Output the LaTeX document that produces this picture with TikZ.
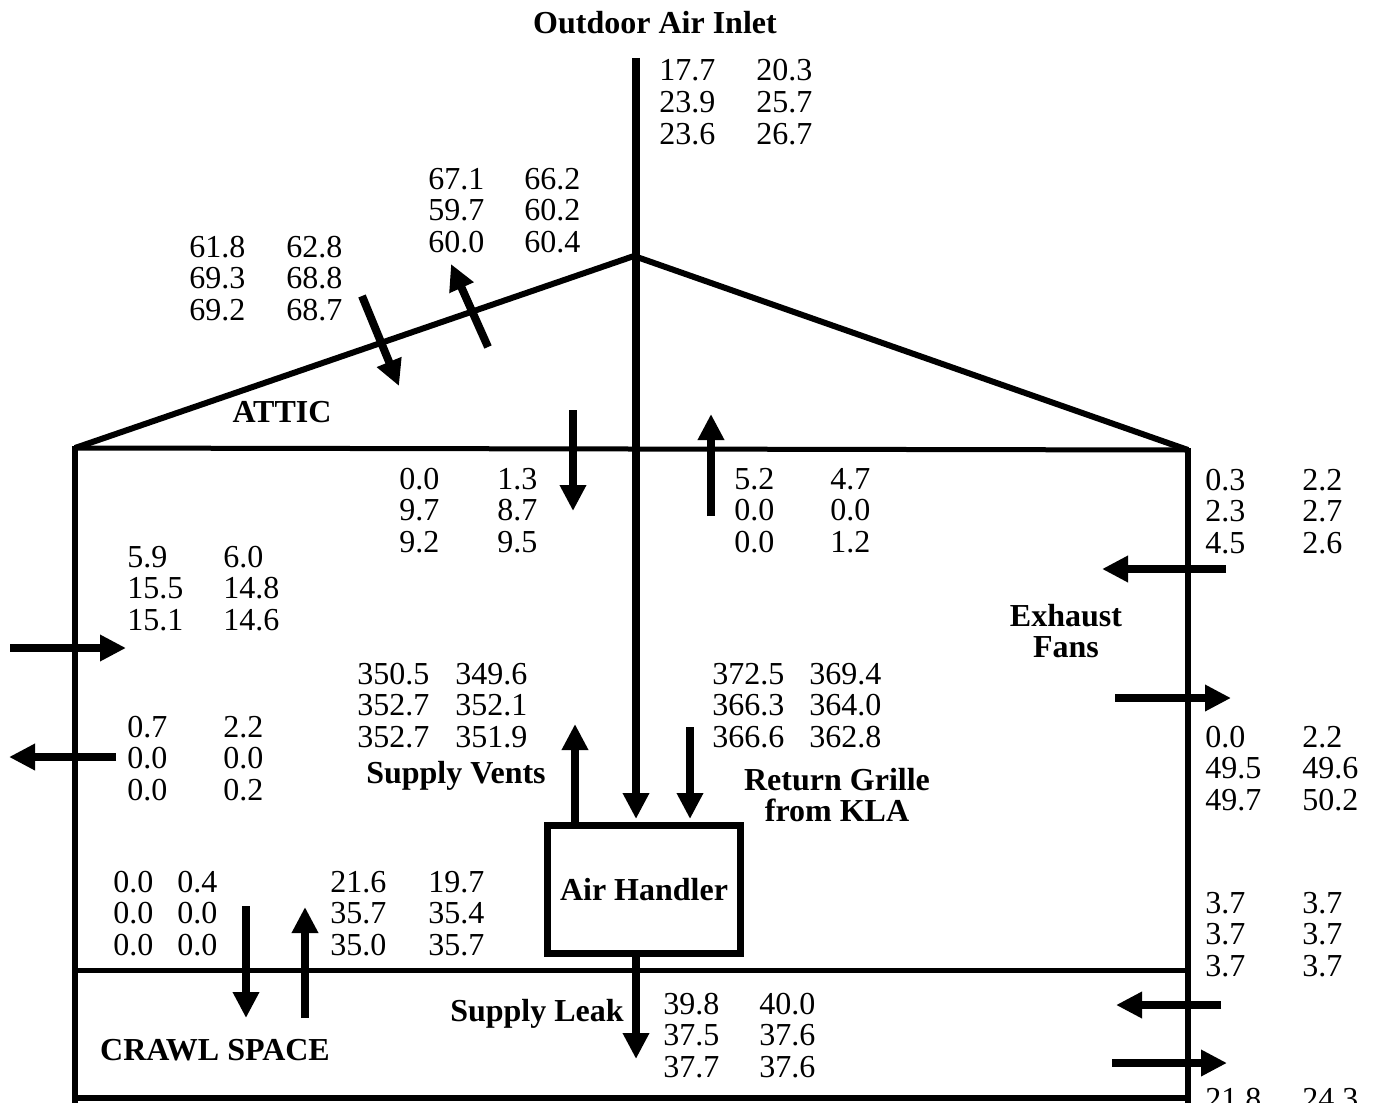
\documentclass[tikz,border=0pt]{standalone}
\usepackage{fontspec}
\setmainfont{Liberation Serif}
\usetikzlibrary{arrows.meta}
\tikzset{
  num/.style={anchor=base west, inner sep=0pt, font=\fontsize{16}{17}\selectfont},
  lbl/.style={inner sep=0pt, align=center, font=\fontsize{16}{15.8}\selectfont\bfseries},
  wall/.style={line width=3pt, line join=miter},
  flow/.style={line width=4pt, -{Triangle[length=13pt,width=12.5pt]}},
}
\newcommand\grp[5]{%
  \foreach \l/\r [count=\i from 0] in {#5}{%
    \node[num] (#1-l\i) at ({#2},{#4+31.6*\i}) {\l};
    \node[num] (#1-r\i) at ({#3},{#4+31.6*\i}) {\r};
  }}
\begin{document}
\begin{tikzpicture}[x=0.5pt,y=-0.5pt]
\useasboundingbox (0,0) rectangle (1374,1102);
\clip (0,0) rectangle (1374,1102);
\fill[white] (0,0) rectangle (1374,1102);
% house outline
\coordinate (eL) at (75,448);
\coordinate (peak) at (634,256);
\coordinate (eR) at (1188,450);
\draw[wall] (eL) -- (peak) -- (eR);
\draw[line width=2.5pt] (eL) -- (eR);
\draw[wall] (75,446) -- (75,1110);
\draw[wall] (1188,448) -- (1188,1110);
\draw[line width=2.5pt] (75,970) -- (1188,970);
\draw[wall] (75,1098) -- (1188,1098);
% air handler
\node[draw, line width=3.5pt, minimum width=193\pgflinewidth, inner sep=0pt,
      minimum width=96.5pt, minimum height=64pt, font=\fontsize{16}{17}\selectfont\bfseries]
      (ah) at (644,889.5) {Air Handler};
% inlet
\coordinate (inTop) at (636,58);
\draw[flow] (inTop) -- (636,819);
% supply vents / return
\draw[flow] (575,822) -- (575,724);
\draw[flow] (690,727) -- (690,819);
% supply leak
\draw[flow] (636,957) -- (636,1059);
% roof arrows
\draw[flow] (362,296) -- (399,386);
\draw[flow] (488,347) -- (451,264);
% attic/ceiling arrows
\draw[flow] (573,410) -- (573,511);
\draw[flow] (711,516) -- (711,414);
% left wall
\draw[flow] (10,648) -- (126,648);
\draw[flow] (116,757) -- (9,757);
% right wall
\draw[flow] (1226,569) -- (1102,569);
\draw[flow] (1115,698) -- (1231,698);
\draw[flow] (1221,1005) -- (1116,1005);
\draw[flow] (1112,1063) -- (1227,1063);
% crawl space
\draw[flow] (246,906) -- (246,1018);
\draw[flow] (305,1018) -- (305,907);
% labels
\node[lbl] (tOut) at (655,23) {Outdoor Air Inlet};
\node[lbl] (tAttic) at (282,412) {ATTIC};
\node[lbl] (tExh) at (1066,631) {Exhaust\\Fans};
\node[lbl] (tSup) at (456,776) {Supply Vents};
\node[lbl] (tRet) at (837,795) {Return Grille\\from KLA};
\node[lbl] (tLeak) at (537,1014) {Supply Leak};
\node[lbl] (tCrawl) at (215,1050) {CRAWL SPACE};
% numbers
\grp{gA}{659}{756}{81}{17.7/20.3, 23.9/25.7, 23.6/26.7}
\grp{gB}{428}{524}{189}{67.1/66.2, 59.7/60.2, 60.0/60.4}
\grp{gC}{189}{286}{257}{61.8/62.8, 69.3/68.8, 69.2/68.7}
\grp{gD}{399}{497}{489}{0.0/1.3, 9.7/8.7, 9.2/9.5}
\grp{gE}{734}{830}{489}{5.2/4.7, 0.0/0.0, 0.0/1.2}
\grp{gF}{1205}{1302}{490}{0.3/2.2, 2.3/2.7, 4.5/2.6}
\grp{gG}{127}{223}{567}{5.9/6.0, 15.5/14.8, 15.1/14.6}
\grp{gH}{357}{455}{684}{350.5/349.6, 352.7/352.1, 352.7/351.9}
\grp{gI}{712}{809}{684}{372.5/369.4, 366.3/364.0, 366.6/362.8}
\grp{gJ}{127}{223}{737}{0.7/2.2, 0.0/0.0, 0.0/0.2}
\grp{gK}{1205}{1302}{747}{0.0/2.2, 49.5/49.6, 49.7/50.2}
\grp{gL}{113}{177}{892}{0.0/0.4, 0.0/0.0, 0.0/0.0}
\grp{gM}{330}{428}{892}{21.6/19.7, 35.7/35.4, 35.0/35.7}
\grp{gN}{1205}{1302}{913}{3.7/3.7, 3.7/3.7, 3.7/3.7}
\grp{gO}{663}{759}{1014}{39.8/40.0, 37.5/37.6, 37.7/37.6}
\node[num] (gP-l0) at (1205,1109) {21.8};
\node[num] (gP-r0) at (1302,1109) {24.3};
\end{tikzpicture}
\end{document}
